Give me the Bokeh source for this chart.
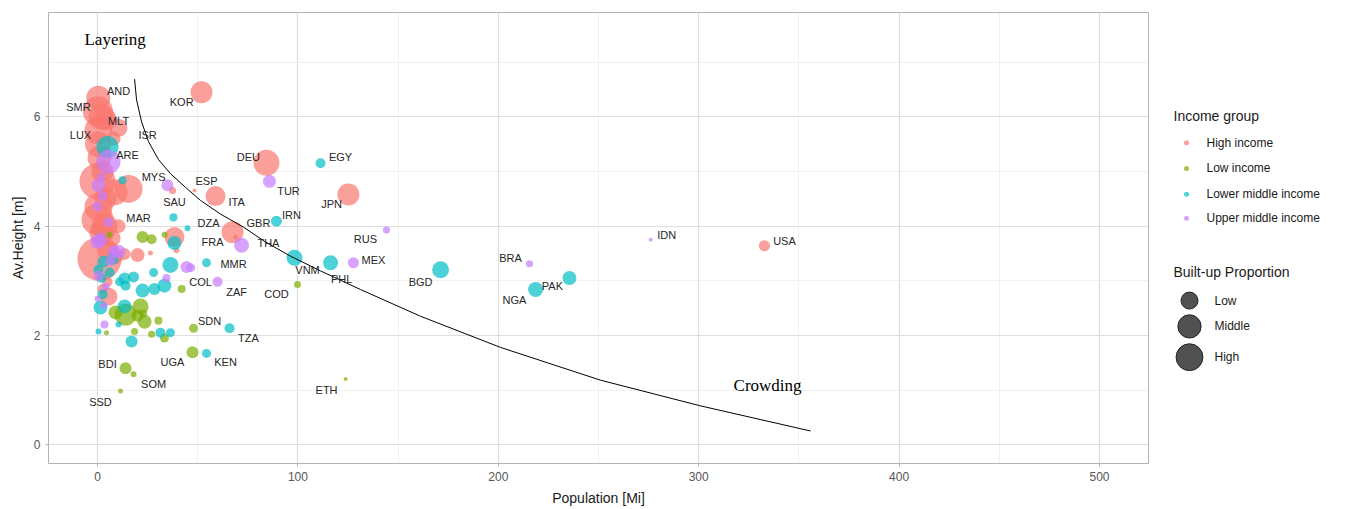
import numpy as np
from bokeh.plotting import figure
from bokeh.models import Range1d, FixedTicker, ColumnDataSource
from bokeh.layouts import row
from bokeh.core.properties import value
from bokeh.embed import file_html
from bokeh.resources import INLINE

# ---------------- data (population [Mi], average height [m], built-up proportion [%]) ----------------
hi_pop = [0.4, 0.2, 2.0, 4.0, 0.5, 10.5, 0.3, 8.0, 1.0, 0.0, 2.5, 15.5, 8.5, 4.0, 0.5, 0.0, 3.5, 10.5, 2.0, 7.0,
          1.0, 5.0, 9.0, 20.0, 13.5, 26.4, 38.4, 39.4, 5.5, 5.0, 2.5, 51.9, 84.3, 125.2, 58.9, 48.4, 37.4, 67.4, 68.9, 332.8]
hi_h = [6.35, 6.1, 6.0, 5.95, 5.75, 5.8, 5.5, 5.6, 5.25, 4.82, 5.0, 4.68, 4.62, 4.5, 4.35, 4.12, 4.0, 4.0, 3.88, 3.78,
        3.4, 3.55, 3.45, 3.47, 3.49, 3.51, 3.8, 3.56, 2.71, 2.98, 2.85, 6.45, 5.16, 4.58, 4.55, 4.65, 4.65, 3.89, 3.8, 3.64]
hi_bu = [16, 25, 18.8, 13.4, 21.8, 9, 18.8, 5.4, 16, 36, 13.4, 21.8, 18.8, 13.4, 21.8, 28.4, 18.8, 5.4, 16, 9,
         54, 11.1, 7.1, 5.4, 4, 0.7, 11.1, 1, 9, 2.8, 2.8, 13.4, 18.8, 13.4, 11.1, 0.44, 1.4, 13.4, 0.7, 3.4]

lo_pop = [6.0, 22.5, 27.0, 33.5, 42.0, 99.8, 21.5, 14.0, 9.0, 23.5, 22.8, 30.4, 4.5, 18.5, 27.0, 33.4, 47.9, 47.4,
          14.0, 18.0, 11.5, 123.8, 20.0]
lo_h = [3.84, 3.8, 3.76, 3.84, 2.85, 2.93, 2.53, 2.38, 2.42, 2.25, 2.4, 2.27, 2.05, 2.07, 2.02, 1.95, 2.13, 1.69,
        1.4, 1.29, 0.98, 1.2, 2.36]
lo_bu = [1, 4, 2.8, 1, 1.8, 1.4, 7.1, 13.4, 5.4, 5.4, 1.8, 1.8, 0.7, 1.4, 1.4, 2.25, 2.25, 4, 4, 1, 0.7, 0.44, 4]

lm_pop = [5.0, 12.5, 37.9, 44.9, 111.3, 89.3, 38.4, 36.4, 54.4, 98.3, 116.3, 171.2, 218.6, 235.5, 28.0, 33.4, 28.4,
          22.5, 18.0, 13.5, 14.0, 11.0, 1.5, 13.5, 10.5, 0.5, 31.4, 36.4, 17.0, 65.9, 54.4, 0.5, 3.0, 7.5, 2.0, 6.0, 2.5]
lm_h = [5.45, 4.84, 4.16, 3.96, 5.15, 4.09, 3.69, 3.29, 3.33, 3.42, 3.33, 3.2, 2.84, 3.05, 3.15, 2.91, 2.85, 2.82,
        3.07, 3.04, 2.91, 2.98, 2.51, 2.53, 2.2, 2.07, 2.05, 2.05, 1.89, 2.13, 1.67, 3.2, 3.35, 3.4, 3.05, 3.15, 2.75]
lm_bu = [13.4, 1.8, 1.8, 1.0, 2.8, 3.4, 5.4, 7.1, 2.25, 7.1, 6.25, 8, 6.25, 5.4, 2.25, 5.4, 4, 5.4, 3.4, 4, 2.8,
         2.25, 5.4, 5.4, 1, 1, 2.8, 2.25, 4, 2.8, 2.25, 2.8, 4, 4, 2.8, 2.8, 2.8]

um_pop = [5.5, 34.9, 85.8, 71.9, 59.9, 127.7, 144.2, 215.6, 276.0, 44.4, 46.5, 34.4, 3.5, 0.5, 2.5, 0.0, 0.0, 5.5,
          10.5, 6.5, 0.5, 4.0, 0.0, 1.5, 8.0, 2.0, 3.0]
um_h = [5.18, 4.75, 4.82, 3.65, 2.98, 3.33, 3.93, 3.31, 3.75, 3.25, 3.24, 3.05, 2.2, 4.75, 4.55, 4.36, 3.71, 4.07,
        3.53, 3.36, 3.09, 2.89, 2.67, 3.75, 3.53, 4.9, 2.55]
um_bu = [16, 4, 4.7, 6.25, 2.8, 3.4, 1.4, 1.4, 0.44, 4, 2.25, 1.8, 1.8, 5.4, 2.8, 2.8, 5.4, 2.8, 5.4, 2.8, 2.8, 1.8,
         1, 5.4, 4, 1.8, 1.4]

groups = ["High income", "Low income", "Lower middle income", "Upper middle income"]
group_colors = ["#F8766D", "#7CAE00", "#00BFC4", "#C77CFF"]

# country labels
lab_text = ["AND", "SMR", "MLT", "LUX", "ISR", "ARE", "MYS", "KOR", "DEU", "EGY", "ESP", "TUR", "SAU", "ITA", "JPN",
            "IRN", "MAR", "DZA", "GBR", "RUS", "FRA", "THA", "IDN", "USA", "BRA", "MMR", "MEX", "VNM", "PHL", "BGD",
            "COL", "PAK", "ZAF", "COD", "NGA", "SDN", "TZA", "UGA", "KEN", "BDI", "SOM", "ETH", "SSD"]
lab_x = [10.5, -9.5, 10.5, -8.5, 25.0, 15.0, 28.0, 42.0, 75.3, 121.3, 54.4, 95.3, 38.4, 69.4, 116.8,
         96.8, 20.5, 55.4, 80.3, 133.7, 57.4, 85.3, 284.0, 342.8, 206.1, 67.9, 137.7, 104.8, 121.8, 161.2,
         51.4, 227.0, 69.4, 89.3, 208.1, 55.9, 75.3, 37.4, 63.9, 5.0, 28.0, 114.3, 1.5]
lab_y = [6.47, 6.18, 5.93, 5.67, 5.67, 5.31, 4.89, 6.27, 5.27, 5.27, 4.82, 4.64, 4.45, 4.45, 4.40,
         4.20, 4.15, 4.05, 4.05, 3.76, 3.71, 3.69, 3.84, 3.73, 3.42, 3.31, 3.38, 3.20, 3.04, 2.98,
         2.98, 2.91, 2.80, 2.76, 2.65, 2.27, 1.95, 1.51, 1.51, 1.47, 1.11, 1.00, 0.78]

# hand-drawn separating curve
curve_x = [18.5, 19.5, 22.0, 25.4, 30.4, 36.4, 43.9, 51.4, 61.4, 72.9, 83.8, 96.3, 111.3, 131.2, 161.2, 201.1,
           251.0, 300.9, 355.8]
curve_y = [6.69, 6.31, 5.91, 5.55, 5.22, 4.96, 4.71, 4.47, 4.22, 3.98, 3.71, 3.45, 3.18, 2.84, 2.35, 1.78,
           1.18, 0.71, 0.25]

x_ticks = [0, 100, 200, 300, 400, 500]
x_minor = [50, 150, 250, 350, 450]
y_ticks = [0, 2, 4, 6]
y_minor = [1, 3, 5, 7]

size_levels = ["Low", "Middle", "High"]
size_values = [8, 15, 20]


def diam(bu):
    return 6.0 * np.sqrt(np.asarray(bu, dtype=float))


# ---------------- main figure ----------------
p = figure(width=1150, height=508, x_range=Range1d(-24.45, 524.45), y_range=Range1d(-0.345, 7.91),
           output_backend="svg", toolbar_location=None,
           min_border_left=48, min_border_right=2, min_border_top=12, min_border_bottom=42)
p.background_fill_color = "white"
p.border_fill_color = "white"
p.outline_line_color = "#B3B3B3"
p.outline_line_width = 1

xt = FixedTicker(ticks=x_ticks, minor_ticks=x_minor)
yt = FixedTicker(ticks=y_ticks, minor_ticks=y_minor)
p.xaxis.ticker = xt
p.yaxis.ticker = yt
p.xgrid.ticker = xt
p.ygrid.ticker = yt
for g in (p.xgrid, p.ygrid):
    g.grid_line_color = "#DEDEDE"
    g.grid_line_width = 1.2
    g.minor_grid_line_color = "#EDEDED"
    g.minor_grid_line_width = 0.8

for ax in (p.xaxis, p.yaxis):
    ax.axis_line_color = None
    ax.major_tick_line_color = "#B3B3B3"
    ax.major_tick_out = 3
    ax.major_tick_in = 0
    ax.minor_tick_line_color = None
    ax.major_label_text_color = "#555555"
    ax.major_label_text_font = "Liberation Sans"
    ax.major_label_text_font_size = "12px"
    ax.major_label_standoff = 4
    ax.axis_label_text_font = "Liberation Sans"
    ax.axis_label_text_font_size = "14px"
    ax.axis_label_text_font_style = "normal"
    ax.axis_label_text_color = "#1A1A1A"
p.xaxis.axis_label_standoff = 6
p.yaxis.axis_label_standoff = 5
p.xaxis.axis_label = "Population [Mi]"
p.yaxis.axis_label = "Av.Height [m]"

series = [(hi_pop, hi_h, hi_bu), (lo_pop, lo_h, lo_bu), (lm_pop, lm_h, lm_bu), (um_pop, um_h, um_bu)]
for (xs, ys, bus), col in zip(series, group_colors):
    src = ColumnDataSource(dict(x=xs, y=ys, s=diam(bus)))
    p.scatter("x", "y", size="s", source=src, fill_color=col, fill_alpha=0.7, line_color=None)

p.line(curve_x, curve_y, line_color="black", line_width=1)

lab_src = ColumnDataSource(dict(x=lab_x, y=lab_y, t=lab_text))
p.text("x", "y", text="t", source=lab_src, text_font=value("Liberation Sans"), text_font_size="11px",
       text_color="#262626", text_align="center", text_baseline="middle")

p.text([-6.5], [7.42], text=["Layering"], text_font=value("Liberation Serif"), text_font_size="17px",
       text_color="black", text_align="left", text_baseline="middle")
p.text([317.4], [1.09], text=["Crowding"], text_font=value("Liberation Serif"), text_font_size="17px",
       text_color="black", text_align="left", text_baseline="middle")

# ---------------- legend panel (frame aligned with the main frame: page y 12..466, x 1150..1350) ----------------
lg = figure(width=200, height=508, x_range=Range1d(1150, 1350), y_range=Range1d(466, 12),
            output_backend="svg", toolbar_location=None,
            min_border_left=0, min_border_right=0, min_border_top=12, min_border_bottom=42)
lg.axis.visible = False
lg.grid.visible = False
lg.outline_line_color = None
lg.background_fill_color = "white"
lg.border_fill_color = "white"

lg.text([1173], [116], text=["Income group"], text_font=value("Liberation Sans"), text_font_size="14px",
        text_color="#1A1A1A", text_baseline="middle")
inc_y = [143, 169, 195, 219]
lg.scatter([1186] * 4, inc_y, size=5, fill_color=group_colors, fill_alpha=0.7, line_color=None)
lg.text([1206] * 4, inc_y, text=groups, text_font=value("Liberation Sans"), text_font_size="12px",
        text_color="#1A1A1A", text_baseline="middle")

lg.text([1173], [273], text=["Built-up Proportion"], text_font=value("Liberation Sans"), text_font_size="14px",
        text_color="#1A1A1A", text_baseline="middle")
sz_y = [302, 328, 359]
lg.scatter([1189] * 3, sz_y, size=diam(size_values), fill_color="#333333", fill_alpha=0.85,
           line_color="#222222", line_width=1)
lg.text([1214] * 3, sz_y, text=size_levels, text_font=value("Liberation Sans"), text_font_size="12px",
        text_color="#1A1A1A", text_baseline="middle")

layout = row(p, lg)
open("out.html", "w").write(file_html(layout, INLINE))
